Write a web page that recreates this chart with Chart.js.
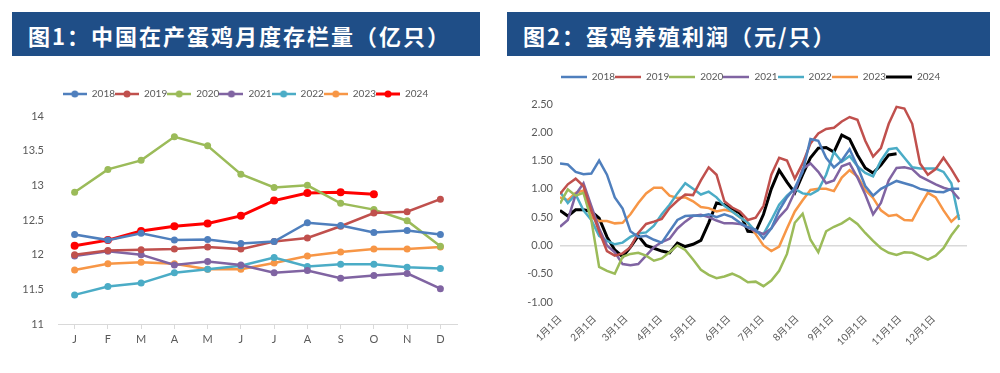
<!DOCTYPE html>
<html>
<head>
<meta charset="utf-8">
<script src="https://cdn.jsdelivr.net/npm/chart.js@4.4.0/dist/chart.umd.min.js"></script>
<style>
html, body { margin: 0; padding: 0; background: #fff; }
#page { position: relative; width: 1000px; height: 373px; overflow: hidden; }
.banner {
    position: absolute; top: 12px; height: 44px; background: #1f4e87; color: #fff;
    font-family: "Noto Sans CJK SC"; font-weight: 700; font-size: 22px; line-height: 46px;
    letter-spacing: 2px; padding-left: 16px; box-sizing: border-box; white-space: nowrap;
}
#b1 { left: 12px; width: 468px; }
#b2 { left: 507px; width: 483px; }
.box { position: absolute; top: 60px; width: 500px; height: 313px; }
#box1 { left: 0; }
#box2 { left: 500px; }
</style>
</head>
<body>
<div id="page">
    <div class="banner" id="b1">图1：中国在产蛋鸡月度存栏量（亿只）</div>
    <div class="banner" id="b2">图2：蛋鸡养殖利润（元/只）</div>
    <div class="box" id="box1"><canvas id="stockChart" width="500" height="313"></canvas></div>
    <div class="box" id="box2"><canvas id="profitChart" width="500" height="313"></canvas></div>
</div>
<script>
// ---- chart 1: monthly laying hen stock (100 million) ----
const months = ['J', 'F', 'M', 'A', 'M', 'J', 'J', 'A', 'S', 'O', 'N', 'D'];
const stock2018 = [12.29, 12.21, 12.31, 12.21, 12.22, 12.16, 12.19, 12.46, 12.42, 12.32, 12.35, 12.29];
const stock2019 = [12.00, 12.06, 12.07, 12.08, 12.11, 12.08, 12.19, 12.24, 12.41, 12.60, 12.62, 12.80];
const stock2020 = [12.90, 13.23, 13.36, 13.70, 13.57, 13.16, 12.97, 13.00, 12.74, 12.65, 12.49, 12.12];
const stock2021 = [11.98, 12.05, 12.00, 11.85, 11.90, 11.85, 11.74, 11.77, 11.66, 11.70, 11.73, 11.51];
const stock2022 = [11.42, 11.54, 11.59, 11.74, 11.79, 11.84, 11.96, 11.83, 11.86, 11.86, 11.82, 11.80];
const stock2023 = [11.78, 11.87, 11.89, 11.87, 11.79, 11.79, 11.88, 11.98, 12.04, 12.08, 12.08, 12.11];
const stock2024 = [12.13, 12.21, 12.34, 12.41, 12.45, 12.56, 12.78, 12.89, 12.90, 12.87];

// ---- chart 2: weekly profit per hen (yuan) ----
const monthLabels = ['1月1日', '2月1日', '3月1日', '4月1日', '5月1日', '6月1日', '7月1日', '8月1日', '9月1日', '10月1日', '11月1日', '12月1日'];
const monthStartDays = [0, 31, 59, 90, 120, 151, 181, 212, 243, 273, 304, 334, 365];
const profit2018 = [1.45, 1.43, 1.30, 1.26, 1.27, 1.50, 1.25, 0.85, 0.65, 0.25, 0.15, 0.17, 0.10, 0.05, 0.25, 0.45, 0.52, 0.53, 0.52, 0.55, 0.50, 0.55, 0.50, 0.40, 0.32, 0.28,
    0.12, 0.30, 0.62, 0.85, 1.02, 1.30, 1.88, 1.85, 1.55, 1.38, 1.50, 1.70, 1.40, 1.05, 0.88, 1.00, 1.07, 1.14, 1.10, 1.06, 1.00, 0.97, 0.95, 0.94, 1.00, 1.00];
const profit2019 = [0.91, 1.08, 1.18, 1.05, 0.62, 0.25, -0.10, -0.18, -0.14, -0.03, 0.22, 0.38, 0.42, 0.47, 0.66, 0.79, 0.90, 0.89, 1.15, 1.38, 1.25, 0.78, 0.67, 0.60, 0.45, 0.49,
    0.70, 1.25, 1.55, 1.50, 1.18, 1.45, 1.80, 1.98, 2.06, 2.08, 2.19, 2.27, 2.22, 1.85, 1.57, 1.72, 2.15, 2.45, 2.42, 2.15, 1.45, 1.25, 1.35, 1.55, 1.35, 1.12];
const profit2020 = [0.74, 0.99, 0.88, 0.93, 0.45, -0.38, -0.45, -0.50, -0.20, -0.15, -0.13, -0.18, -0.27, -0.23, -0.12, 0.00, -0.08, -0.25, -0.43, -0.52, -0.58, -0.55, -0.50, -0.56, -0.65, -0.64,
    -0.72, -0.62, -0.45, -0.15, 0.40, 0.56, 0.10, -0.12, 0.25, 0.33, 0.39, 0.48, 0.38, 0.22, 0.08, -0.05, -0.13, -0.17, -0.12, -0.13, -0.19, -0.25, -0.18, -0.05, 0.18, 0.36];
const profit2021 = [0.33, 0.45, 0.90, 1.10, 0.70, 0.30, 0.00, -0.12, -0.33, -0.35, -0.33, -0.18, -0.03, 0.06, 0.12, 0.30, 0.42, 0.52, 0.54, 0.50, 0.44, 0.39, 0.39, 0.38, 0.32, 0.25,
    0.20, 0.30, 0.50, 0.65, 0.95, 1.35, 1.45, 1.30, 1.10, 1.15, 1.40, 1.45, 1.20, 0.90, 0.55, 0.75, 1.15, 1.37, 1.38, 1.35, 1.22, 1.15, 1.08, 1.02, 0.98, 0.82];
const profit2022 = [0.95, 0.75, 0.90, 0.62, 0.45, 0.17, 0.08, 0.02, 0.05, 0.15, 0.21, 0.23, 0.35, 0.55, 0.72, 0.92, 1.10, 1.00, 0.90, 0.95, 0.85, 0.70, 0.60, 0.50, 0.40, 0.25,
    0.20, 0.45, 0.72, 0.88, 1.00, 0.92, 0.90, 0.98, 1.25, 1.65, 1.48, 1.58, 1.40, 1.28, 1.22, 1.50, 1.70, 1.72, 1.55, 1.38, 1.36, 1.36, 1.36, 1.30, 1.10, 0.45];
const profit2023 = [0.85, 0.80, 0.93, 0.97, 0.50, 0.43, 0.43, 0.39, 0.40, 0.55, 0.75, 0.92, 1.02, 1.02, 0.88, 0.84, 0.85, 0.78, 0.68, 0.66, 0.60, 0.63, 0.60, 0.50, 0.40, 0.20,
    0.00, -0.10, -0.02, 0.30, 0.60, 0.80, 0.98, 1.00, 1.00, 0.96, 1.20, 1.33, 1.22, 0.98, 0.84, 0.62, 0.52, 0.54, 0.45, 0.44, 0.70, 0.93, 0.85, 0.62, 0.42, 0.55];
const profit2024 = [0.62, 0.52, 0.63, 0.63, 0.60, 0.48, 0.15, -0.08, -0.20, -0.03, 0.17, 0.00, -0.05, -0.10, -0.13, 0.04, -0.02, 0.02, 0.09, 0.40, 0.75, 0.72, 0.64, 0.57, 0.25, 0.24,
    0.55, 1.00, 1.33, 1.12, 0.93, 1.25, 1.55, 1.72, 1.73, 1.65, 1.95, 1.88, 1.60, 1.37, 1.28, 1.42, 1.60, 1.62];

const years = ['2018', '2019', '2020', '2021', '2022', '2023', '2024'];
const colors = ['#4f7fbd', '#c0504d', '#9bbb59', '#8064a2', '#4bacc6', '#f79646'];
const tickFont = { family: 'Lato, "Noto Sans CJK SC"', size: 11 };
const legendFont = { family: 'Lato', size: 10 };
const grey = '#595959';

// little line (+dot) picture for the legend, excel style
function legendIcon(color, width, dot, len) {
    let c = document.createElement('canvas');
    c.width = len;
    c.height = 10;
    let g = c.getContext('2d');
    g.strokeStyle = color;
    g.lineWidth = width;
    g.beginPath();
    g.moveTo(0, 5);
    g.lineTo(len, 5);
    g.stroke();
    if (dot > 0) {
        g.fillStyle = color;
        g.beginPath();
        g.arc(len / 2, 5, dot, 0, Math.PI * 2);
        g.fill();
    }
    return c;
}

function legendLabels(dot, len) {
    return function (chart) {
        return chart.data.datasets.map((ds, i) => ({
            text: ds.label,
            fontColor: grey,
            pointStyle: legendIcon(ds.borderColor, ds.borderWidth, dot, len),
            lineWidth: 0,
            strokeStyle: 'transparent',
            fillStyle: 'transparent',
            datasetIndex: i
        }));
    };
}

// moves the legend row to where the excel chart had it
const legendMover = {
    id: 'legendMover',
    afterLayout(chart, args, opts) {
        let lg = chart.legend;
        if (!lg) return;
        let h = lg.bottom - lg.top;
        lg.left += opts.dx;
        lg.right += opts.dx;
        lg.top = opts.cy - h / 2;
        lg.bottom = lg.top + h;
    }
};

const stockSeries = [stock2018, stock2019, stock2020, stock2021, stock2022, stock2023, stock2024];
new Chart(document.getElementById('stockChart'), {
    type: 'line',
    plugins: [legendMover],
    data: {
        labels: months,
        datasets: stockSeries.map((s, i) => ({
            label: years[i],
            data: s,
            borderColor: i == 6 ? '#ff0000' : colors[i],
            backgroundColor: i == 6 ? '#ff0000' : colors[i],
            borderWidth: i == 6 ? 3 : 2.5,
            pointRadius: i == 6 ? 4 : 3.5,
            pointBorderWidth: 0,
            tension: 0
        }))
    },
    options: {
        responsive: false,
        animation: false,
        layout: { padding: { left: 0, right: 43, top: 36, bottom: 0 } },
        plugins: {
            tooltip: { enabled: false },
            legendMover: { dx: 17, cy: 39 },
            legend: {
                labels: {
                    usePointStyle: true,
                    pointStyleWidth: 24,
                    padding: 0,
                    font: legendFont,
                    color: grey,
                    generateLabels: legendLabels(3.5, 24)
                }
            }
        },
        scales: {
            x: {
                offset: true,
                grid: { drawOnChartArea: false, drawTicks: true, tickLength: 5, color: '#d9d9d9' },
                border: { color: '#d9d9d9' },
                ticks: { font: tickFont, color: grey, padding: 4 },
                afterFit: s => { s.height = 49; }
            },
            y: {
                min: 11,
                max: 14,
                grid: { display: false },
                border: { display: false },
                ticks: { stepSize: 0.5, font: tickFont, color: grey, padding: 6, callback: v => String(v) },
                afterFit: s => { s.width = 58; }
            }
        }
    }
});

const profitSeries = [profit2018, profit2019, profit2020, profit2021, profit2022, profit2023, profit2024];
new Chart(document.getElementById('profitChart'), {
    type: 'line',
    plugins: [legendMover],
    data: {
        datasets: profitSeries.map((s, i) => ({
            label: years[i],
            data: s.map((v, w) => ({ x: w, y: v })),
            borderColor: i == 6 ? '#000000' : colors[i],
            backgroundColor: i == 6 ? '#000000' : colors[i],
            borderWidth: i == 6 ? 3 : 2.5,
            pointRadius: 0,
            tension: 0
        }))
    },
    options: {
        responsive: false,
        animation: false,
        layout: { padding: { left: 0, right: 33, top: 24, bottom: 0 } },
        plugins: {
            tooltip: { enabled: false },
            legendMover: { dx: 17, cy: 22 },
            legend: {
                labels: {
                    usePointStyle: true,
                    pointStyleWidth: 26,
                    padding: 0,
                    font: legendFont,
                    color: grey,
                    generateLabels: legendLabels(0, 26)
                }
            }
        },
        scales: {
            x: {
                type: 'linear',
                min: 0,
                max: 52,
                afterBuildTicks: axis => { axis.ticks = monthStartDays.map(d => ({ value: d / 7 })); },
                grid: { display: false },
                border: { display: false },
                ticks: {
                    autoSkip: false,
                    minRotation: 45,
                    maxRotation: 45,
                    font: { family: 'Lato, "Noto Sans CJK SC"', size: 10 },
                    color: grey,
                    callback: (v, i) => monthLabels[i] || ''
                },
                afterFit: s => { s.height = 71; }
            },
            y: {
                min: -1,
                max: 2.5,
                grid: {
                    drawTicks: false,
                    color: ctx => ctx.tick && ctx.tick.value === 0 ? '#d9d9d9' : 'transparent',
                    lineWidth: 1.5
                },
                border: { display: false },
                ticks: { stepSize: 0.5, font: tickFont, color: grey, padding: 7, callback: v => v.toFixed(2) },
                afterFit: s => { s.width = 60; }
            }
        }
    }
});
</script>
</body>
</html>
